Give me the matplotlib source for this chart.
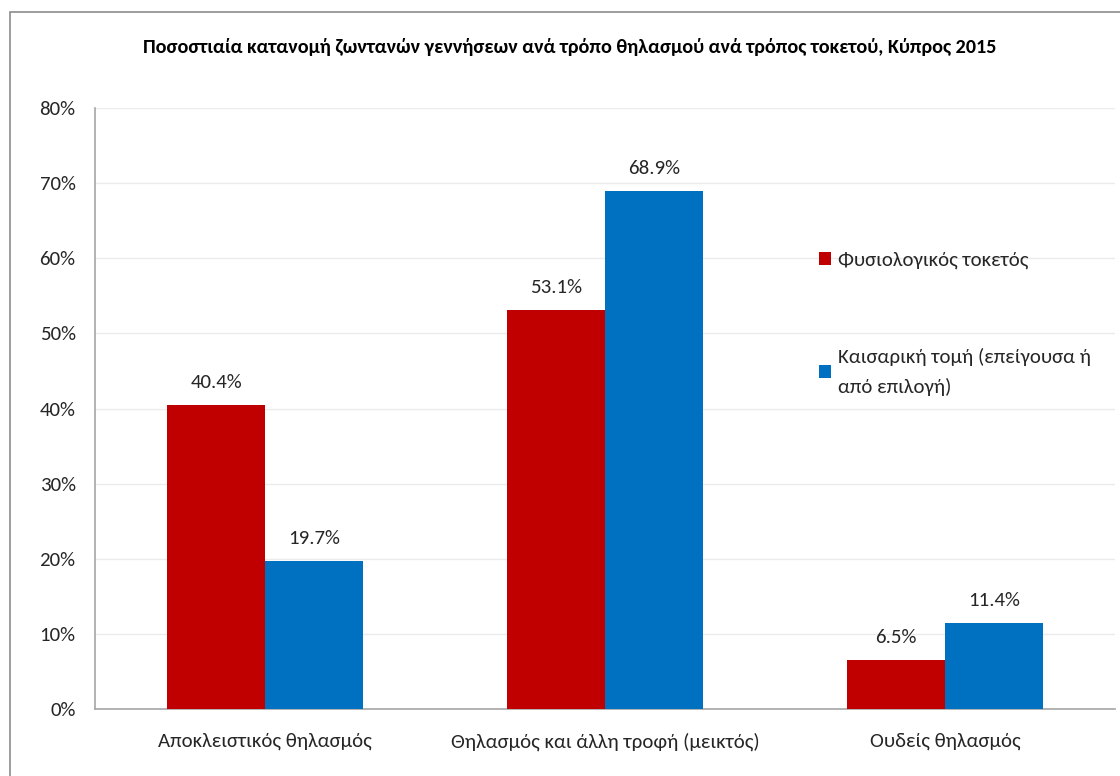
import matplotlib.pyplot as plt
import numpy as np
from matplotlib.patches import Rectangle

categories = ["Αποκλειστικός θηλασμός", "Θηλασμός και άλλη τροφή (μεικτός)", "Ουδείς θηλασμός"]
natural = [40.4, 53.1, 6.5]
caesarean = [19.7, 68.9, 11.4]
series_names = ["Φυσιολογικός τοκετός", "Καισαρική τομή (επείγουσα ή\nαπό επιλογή)"]
title = "Ποσοστιαία κατανομή ζωντανών γεννήσεων ανά τρόπο θηλασμού ανά τρόπος τοκετού, Κύπρος 2015"

RED = "#C00000"
BLUE = "#0070C0"
TXT = "#262626"

plt.rcParams['font.family'] = ['Carlito', 'DejaVu Sans']

fig = plt.figure(figsize=(11.2, 7.76), dpi=100)
# outer chart border (cut off on right and bottom like the screenshot)
fig.patches.append(Rectangle((10 / 1120, -0.1), 1.2, 1 - 12 / 776 + 0.1, transform=fig.transFigure,
                             fill=False, edgecolor="#8c8c8c", linewidth=1.2))

ax = fig.add_axes([95 / 1120, 1 - 709 / 776, 1020 / 1120, 601 / 776])
x = np.arange(len(categories))
w = 0.287
b1 = ax.bar(x - w / 2, natural, w, color=RED, zorder=3)
b2 = ax.bar(x + w / 2, caesarean, w, color=BLUE, zorder=3)

for bars, vals in ((b1, natural), (b2, caesarean)):
    for rect, v in zip(bars, vals):
        ax.text(rect.get_x() + rect.get_width() / 2, v + 1.9, f"{v:.1f}%", ha="center", va="bottom",
                fontsize=15, color=TXT)

ax.set_xlim(-0.5, 2.5)
ax.set_ylim(0, 80)
ax.set_yticks(range(0, 81, 10))
ax.set_yticklabels([f"{t}%" for t in range(0, 81, 10)], fontsize=15, color=TXT)
ax.set_xticks(x)
ax.set_xticklabels(categories, fontsize=15, color=TXT)
ax.tick_params(axis="both", length=0)
ax.tick_params(axis="y", pad=14)
ax.tick_params(axis="x", pad=17)
ax.grid(axis="y", color="#ebebeb", linewidth=1, zorder=0)
for s in ("top", "right"):
    ax.spines[s].set_visible(False)
for s in ("left", "bottom"):
    ax.spines[s].set_color("#a6a6a6")
    ax.spines[s].set_linewidth(1.2)

fig.text(570 / 1120, 1 - 47 / 776, title, ha="center", va="center", fontsize=14.5, fontweight="bold", color="black")

leg = ax.legend([b1, b2], series_names, loc="upper left", bbox_to_anchor=(705 / 1020, 0.792),
                frameon=False, fontsize=15, handlelength=0.6, handleheight=0.6, handletextpad=0.3,
                labelspacing=3.8, labelcolor=TXT)
for t in leg.get_texts():
    t.set_linespacing(1.75)

fig.savefig("out.png", dpi=100, facecolor="white")
